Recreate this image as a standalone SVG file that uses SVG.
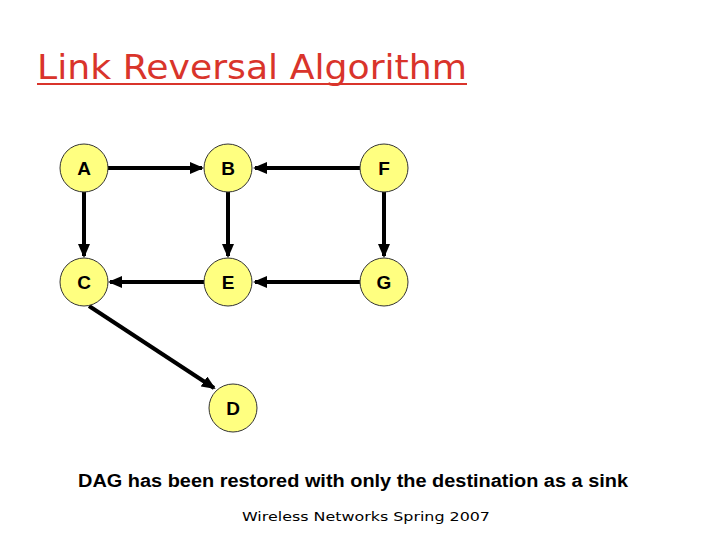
<svg xmlns="http://www.w3.org/2000/svg" width="720" height="540" viewBox="0 0 720 540">
<style>
.node{fill:#ffff80;stroke:#333;stroke-width:1}
.lbl{font-family:"Liberation Sans",Arial,sans-serif;font-weight:bold;font-size:19px;fill:#000;text-anchor:middle}
.edge{stroke:#000;stroke-width:4;fill:none;marker-end:url(#arr)}
</style>
<defs>
<marker id="arr" markerWidth="3.5" markerHeight="3" refX="3" refY="1.5" orient="auto" markerUnits="strokeWidth">
<path d="M0,0 L3.5,1.5 L0,3 z" fill="#000"/>
</marker>
</defs>
<rect width="720" height="540" fill="#fff"/>
<text x="37" y="79" font-family="DejaVu Sans,Verdana,sans-serif" font-size="33" fill="#d9342b" textLength="430" lengthAdjust="spacingAndGlyphs">Link Reversal Algorithm</text>
<rect x="37" y="83" width="430" height="2" fill="#d9342b"/>
<g id="connectors">
<line class="edge" x1="108" y1="168" x2="202" y2="168"/>
<line class="edge" x1="360" y1="168" x2="255" y2="168"/>
<line class="edge" x1="84" y1="192" x2="84" y2="256"/>
<line class="edge" x1="228" y1="192" x2="228" y2="256"/>
<line class="edge" x1="384" y1="192" x2="384" y2="256"/>
<line class="edge" x1="360" y1="282" x2="255" y2="282"/>
<line class="edge" x1="204" y1="282" x2="110" y2="282"/>
<line class="edge" x1="89" y1="306" x2="214" y2="388"/>
</g>
<g id="A"><circle class="node" cx="84" cy="168" r="24"/><text class="lbl" x="84" y="175">A</text></g>
<g id="B"><circle class="node" cx="228" cy="168" r="24"/><text class="lbl" x="228" y="175">B</text></g>
<g id="F"><circle class="node" cx="384" cy="168" r="24"/><text class="lbl" x="384" y="175">F</text></g>
<g id="C"><circle class="node" cx="84" cy="282" r="24"/><text class="lbl" x="84" y="289">C</text></g>
<g id="E"><circle class="node" cx="228" cy="282" r="24"/><text class="lbl" x="228" y="289">E</text></g>
<g id="G"><circle class="node" cx="384" cy="282" r="24"/><text class="lbl" x="384" y="289">G</text></g>
<g id="D"><circle class="node" cx="233" cy="408" r="24"/><text class="lbl" x="233" y="415">D</text></g>
<text x="78" y="487" font-family="Liberation Sans,Arial,sans-serif" font-weight="bold" font-size="18" fill="#000" textLength="550" lengthAdjust="spacingAndGlyphs">DAG has been restored with only the destination as a sink</text>
<text x="242" y="521" font-family="DejaVu Sans,Verdana,sans-serif" font-size="13" fill="#000" textLength="248" lengthAdjust="spacingAndGlyphs">Wireless Networks Spring 2007</text>
</svg>
